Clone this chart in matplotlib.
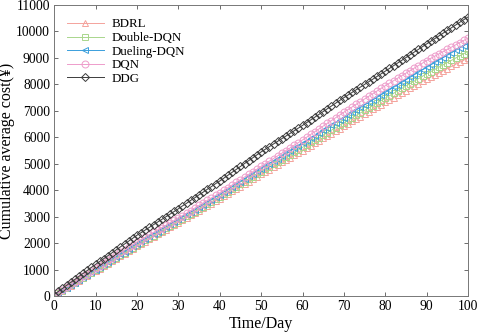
import numpy as np
import matplotlib
matplotlib.use('Agg')
import matplotlib.pyplot as plt

plt.rcParams['font.family'] = ['Liberation Serif', 'DejaVu Serif']

days = list(range(0, 101))

ddg = [60, 180, 290, 410, 520, 630, 750, 860, 970, 1090, 1200,
       1310, 1420, 1530, 1640, 1750, 1860, 1970, 2080, 2190, 2300,
       2400, 2500, 2600, 2700, 2800, 2900, 3000, 3100, 3200, 3300,
       3410, 3510, 3620, 3720, 3830, 3930, 4040, 4140, 4250, 4350,
       4460, 4570, 4680, 4790, 4900, 5010, 5120, 5230, 5340, 5450,
       5550, 5650, 5750, 5850, 5950, 6050, 6150, 6250, 6350, 6450,
       6555, 6660, 6765, 6870, 6975, 7080, 7185, 7290, 7395, 7500,
       7600, 7700, 7800, 7900, 8000, 8100, 8200, 8300, 8400, 8500,
       8603, 8706, 8809, 8912, 9015, 9118, 9221, 9324, 9427, 9530,
       9632, 9734, 9836, 9938, 10040, 10142, 10244, 10346, 10448, 10550]

dqn = [40, 140, 240, 345, 445, 545, 645, 750, 850, 950, 1050,
       1150, 1250, 1350, 1450, 1550, 1650, 1750, 1850, 1950, 2050,
       2140, 2230, 2320, 2410, 2500, 2590, 2680, 2770, 2860, 2950,
       3045, 3140, 3235, 3330, 3425, 3520, 3615, 3710, 3805, 3900,
       4000, 4100, 4200, 4300, 4400, 4500, 4600, 4700, 4800, 4900,
       5000, 5100, 5200, 5300, 5400, 5500, 5600, 5700, 5800, 5900,
       6005, 6110, 6215, 6320, 6425, 6530, 6635, 6740, 6845, 6950,
       7050, 7150, 7250, 7350, 7450, 7550, 7650, 7750, 7850, 7950,
       8045, 8140, 8235, 8330, 8425, 8520, 8615, 8710, 8805, 8900,
       8985, 9070, 9155, 9240, 9325, 9410, 9495, 9580, 9665, 9750]

dueling = [30, 127, 224, 321, 418, 515, 612, 709, 806, 903, 1000,
           1098, 1196, 1294, 1392, 1490, 1588, 1686, 1784, 1882, 1980,
           2072, 2164, 2256, 2348, 2440, 2532, 2624, 2716, 2808, 2900,
           2993, 3086, 3179, 3272, 3365, 3458, 3551, 3644, 3737, 3830,
           3929, 4028, 4127, 4226, 4325, 4424, 4523, 4622, 4721, 4820,
           4915, 5010, 5105, 5200, 5295, 5390, 5485, 5580, 5675, 5770,
           5868, 5966, 6064, 6162, 6260, 6358, 6456, 6554, 6652, 6750,
           6845, 6940, 7035, 7130, 7225, 7320, 7415, 7510, 7605, 7700,
           7795, 7890, 7985, 8080, 8175, 8270, 8365, 8460, 8555, 8650,
           8741, 8832, 8923, 9014, 9105, 9196, 9287, 9378, 9469, 9560]

double = [20, 116, 212, 308, 404, 500, 596, 692, 788, 884, 980,
          1075, 1170, 1265, 1360, 1455, 1550, 1645, 1740, 1835, 1930,
          2020, 2110, 2200, 2290, 2380, 2470, 2560, 2650, 2740, 2830,
          2922, 3014, 3106, 3198, 3290, 3382, 3474, 3566, 3658, 3750,
          3845, 3940, 4035, 4130, 4225, 4320, 4415, 4510, 4605, 4700,
          4792, 4884, 4976, 5068, 5160, 5252, 5344, 5436, 5528, 5620,
          5713, 5806, 5899, 5992, 6085, 6178, 6271, 6364, 6457, 6550,
          6643, 6736, 6829, 6922, 7015, 7108, 7201, 7294, 7387, 7480,
          7572, 7664, 7756, 7848, 7940, 8032, 8124, 8216, 8308, 8400,
          8485, 8570, 8655, 8740, 8825, 8910, 8995, 9080, 9165, 9250]

bdrl = [10, 104, 198, 292, 386, 480, 574, 668, 762, 856, 950,
        1043, 1136, 1229, 1322, 1415, 1508, 1601, 1694, 1787, 1880,
        1970, 2060, 2150, 2240, 2330, 2420, 2510, 2600, 2690, 2780,
        2870, 2960, 3050, 3140, 3230, 3320, 3410, 3500, 3590, 3680,
        3772, 3864, 3956, 4048, 4140, 4232, 4324, 4416, 4508, 4600,
        4690, 4780, 4870, 4960, 5050, 5140, 5230, 5320, 5410, 5500,
        5592, 5684, 5776, 5868, 5960, 6052, 6144, 6236, 6328, 6420,
        6511, 6602, 6693, 6784, 6875, 6966, 7057, 7148, 7239, 7330,
        7417, 7504, 7591, 7678, 7765, 7852, 7939, 8026, 8113, 8200,
        8280, 8360, 8440, 8520, 8600, 8680, 8760, 8840, 8920, 9000]

labels = ['BDRL', 'Double-DQN', 'Dueling-DQN', 'DQN', 'DDG']
series = [bdrl, double, dueling, dqn, ddg]
colors = ['#f4a39c', '#a9d68c', '#3a9fdc', '#ee9ccb', '#3c3c3c']
markers = ['^', 's', '<', 'o', 'D']
msizes = [5, 4.2, 5, 5, 4]

fig = plt.figure(figsize=(4.84, 3.35), dpi=100)
ax = fig.add_axes([0.112, 0.116, 0.855, 0.869])

for y, lab, c, m, ms in zip(series, labels, colors, markers, msizes):
    ax.plot(days, y, color=c, marker=m, markersize=ms, markerfacecolor='none',
            markeredgewidth=0.7, linewidth=0.7, label=lab)

ax.set_xlim(0, 100)
ax.set_ylim(0, 11000)
ax.set_xticks(range(0, 101, 10))
ax.set_yticks(range(0, 11001, 1000))
ax.tick_params(direction='in', top=True, right=True, length=3, width=0.6,
               color='#555555', labelsize=9.8, pad=3)
for s in ax.spines.values():
    s.set_color('#777777')
    s.set_linewidth(0.7)

ax.set_xlabel('Time/Day', fontsize=11.5, labelpad=2)
ax.set_ylabel('Cumulative average cost(\u00a5)', fontsize=11.5, labelpad=1)

ax.legend(loc='upper left', frameon=False, fontsize=9.3, handlelength=2.8,
          labelspacing=0.12, borderaxespad=0.3, handletextpad=0.6,
          bbox_to_anchor=(0.01, 0.985))

fig.savefig('out.png', dpi=100)
